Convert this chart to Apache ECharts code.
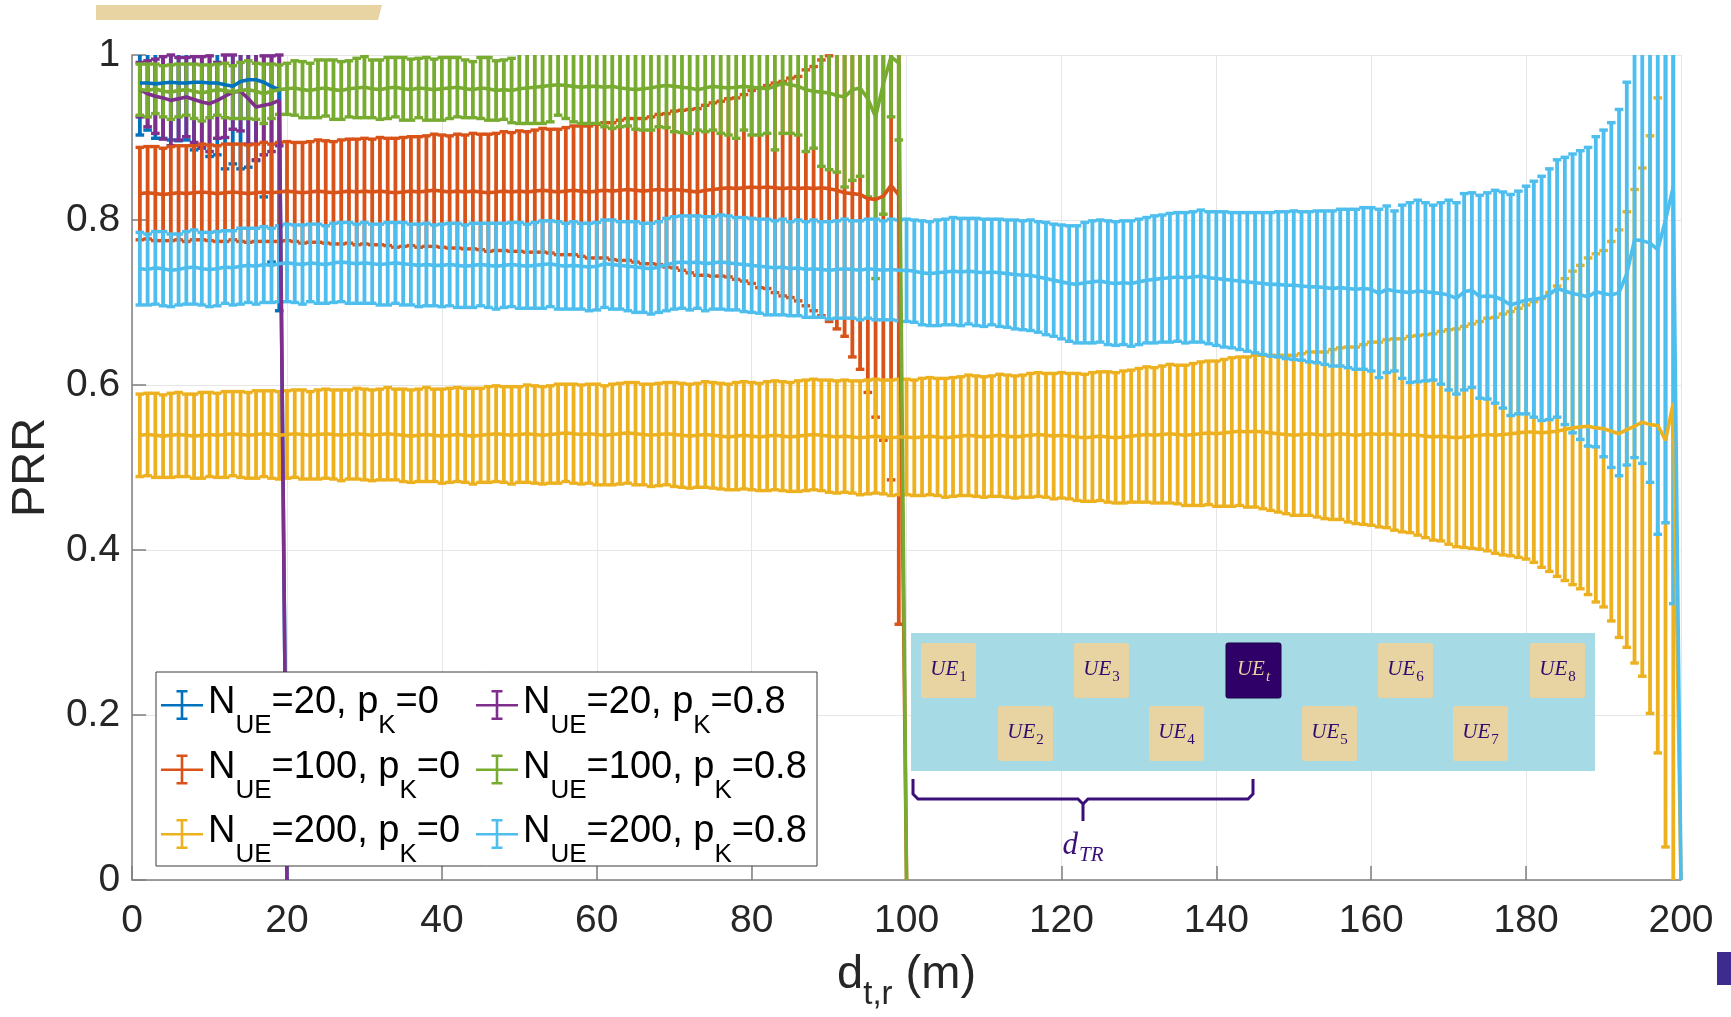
<!DOCTYPE html>
<html><head><meta charset="utf-8">
<script src="https://cdn.jsdelivr.net/npm/echarts@6/dist/echarts.min.js"></script>
<style>html,body{margin:0;padding:0;background:#fff;}#c{width:1731px;height:1017px;}</style>
</head><body><div id="c"></div>
<script>
// ---------------- data (x = 1..N metres) ----------------
const SERIES_NAMES = ['N_UE=20, p_K=0','N_UE=20, p_K=0.8','N_UE=100, p_K=0','N_UE=100, p_K=0.8','N_UE=200, p_K=0','N_UE=200, p_K=0.8'];
const COLORS = ['#0072BD','#7E2F8E','#D95319','#77AC30','#EDB120','#4DBEEE'];
const X_TICKS = [0,20,40,60,80,100,120,140,160,180,200];
const Y_TICKS = [0,0.2,0.4,0.6,0.8,1];

// N_UE=20, p_K=0
const B_MEAN = [0.966,0.966,0.965,0.966,0.967,0.966,0.966,0.967,0.967,0.966,0.966,0.964,0.962,0.968,0.970,0.970,0.967,0.962,0.958,0];
const B_STD  = [0.063,0.057,0.066,0.067,0.070,0.070,0.069,0.082,0.080,0.089,0.087,0.102,0.094,0.106,0.106,0.098,0.139,0.213,0.268,0];
// N_UE=20, p_K=0.8
const P_MEAN = [0.958,0.953,0.950,0.948,0.945,0.947,0.949,0.946,0.943,0.941,0.945,0.950,0.955,0.956,0.947,0.937,0.939,0.941,0.945,0];
const P_STD  = [0.033,0.040,0.045,0.050,0.055,0.050,0.048,0.052,0.055,0.058,0.046,0.050,0.045,0.048,0.055,0.064,0.060,0.058,0.055,0];
// N_UE=100, p_K=0
const O_MEAN = [0.832,0.833,0.832,0.831,0.832,0.833,0.832,0.833,0.834,0.833,
0.832,0.833,0.834,0.833,0.832,0.833,0.834,0.833,0.834,0.835,
0.834,0.833,0.834,0.835,0.834,0.833,0.834,0.835,0.834,0.835,
0.834,0.835,0.834,0.833,0.834,0.835,0.834,0.835,0.836,0.835,
0.834,0.835,0.834,0.835,0.834,0.833,0.834,0.835,0.834,0.835,
0.834,0.835,0.836,0.835,0.834,0.835,0.836,0.835,0.834,0.835,
0.836,0.835,0.836,0.837,0.836,0.835,0.836,0.837,0.836,0.837,
0.836,0.835,0.834,0.836,0.837,0.838,0.839,0.838,0.839,0.840,
0.839,0.840,0.839,0.838,0.839,0.838,0.839,0.838,0.839,0.838,
0.836,0.833,0.832,0.831,0.826,0.825,0.829,0.842,0.830,0];
const O_STD = [0.056,0.056,0.057,0.056,0.057,0.057,0.058,0.057,0.058,0.058,
0.058,0.059,0.058,0.059,0.059,0.059,0.060,0.059,0.060,0.060,
0.060,0.061,0.061,0.062,0.062,0.062,0.063,0.063,0.064,0.064,
0.064,0.065,0.065,0.066,0.066,0.066,0.067,0.067,0.068,0.068,
0.068,0.069,0.069,0.070,0.070,0.071,0.071,0.072,0.072,0.073,
0.073,0.074,0.075,0.075,0.076,0.077,0.078,0.079,0.080,0.081,
0.082,0.083,0.085,0.086,0.087,0.088,0.089,0.091,0.093,0.095,
0.097,0.099,0.101,0.103,0.105,0.106,0.108,0.110,0.113,0.117,
0.121,0.123,0.127,0.130,0.133,0.136,0.143,0.148,0.155,0.161,
0.168,0.174,0.198,0.212,0.235,0.264,0.296,0.357,0.520,0];
// N_UE=100, p_K=0.8
const G_MEAN = [0.958,0.957,0.959,0.956,0.955,0.957,0.958,0.956,0.954,0.956,
0.958,0.957,0.955,0.957,0.958,0.956,0.953,0.956,0.958,0.959,
0.960,0.958,0.957,0.959,0.960,0.958,0.957,0.959,0.960,0.961,
0.959,0.958,0.960,0.961,0.959,0.958,0.960,0.959,0.958,0.959,
0.960,0.961,0.959,0.958,0.960,0.959,0.957,0.958,0.957,0.959,
0.960,0.961,0.962,0.963,0.964,0.963,0.962,0.961,0.962,0.962,
0.961,0.962,0.960,0.959,0.958,0.959,0.960,0.962,0.963,0.962,
0.961,0.960,0.958,0.960,0.962,0.961,0.960,0.961,0.962,0.961,
0.960,0.959,0.962,0.966,0.964,0.962,0.958,0.956,0.955,0.954,
0.951,0.949,0.958,0.960,0.947,0.925,0.965,0.998,0.990,0];
const G_STD = [0.031,0.032,0.030,0.031,0.033,0.032,0.031,0.033,0.034,0.032,
0.031,0.033,0.032,0.034,0.035,0.034,0.036,0.033,0.030,0.031,
0.033,0.034,0.033,0.035,0.034,0.036,0.035,0.034,0.036,0.037,
0.035,0.036,0.037,0.036,0.038,0.037,0.036,0.038,0.037,0.038,
0.037,0.036,0.035,0.034,0.037,0.038,0.036,0.036,0.039,0.042,
0.043,0.044,0.045,0.044,0.037,0.040,0.043,0.044,0.045,0.045,
0.048,0.051,0.047,0.045,0.048,0.050,0.051,0.049,0.051,0.055,
0.055,0.055,0.049,0.053,0.053,0.056,0.057,0.062,0.053,0.058,
0.057,0.054,0.077,0.061,0.059,0.059,0.075,0.069,0.090,0.093,
0.093,0.109,0.110,0.107,0.119,0.196,0.158,0.073,0.093,0];
// N_UE=200, p_K=0
const Y_MEAN = [0.539,0.540,0.539,0.538,0.539,0.540,0.539,0.538,0.539,0.540,
0.539,0.540,0.541,0.540,0.539,0.540,0.541,0.540,0.539,0.540,
0.541,0.540,0.539,0.540,0.541,0.540,0.539,0.540,0.541,0.540,
0.539,0.540,0.541,0.540,0.539,0.538,0.539,0.540,0.539,0.538,
0.539,0.540,0.539,0.538,0.539,0.540,0.541,0.540,0.539,0.540,
0.541,0.540,0.539,0.540,0.541,0.542,0.541,0.540,0.541,0.540,
0.539,0.540,0.541,0.542,0.541,0.540,0.539,0.540,0.541,0.540,
0.539,0.538,0.539,0.540,0.539,0.538,0.537,0.538,0.539,0.538,
0.537,0.538,0.539,0.538,0.537,0.538,0.539,0.540,0.539,0.538,
0.537,0.538,0.537,0.536,0.537,0.538,0.537,0.536,0.537,0.537,
0.536,0.537,0.538,0.537,0.536,0.537,0.538,0.539,0.538,0.537,
0.538,0.539,0.538,0.537,0.538,0.539,0.540,0.539,0.538,0.539,
0.538,0.537,0.536,0.537,0.538,0.537,0.536,0.537,0.538,0.539,
0.540,0.539,0.540,0.541,0.540,0.539,0.540,0.541,0.542,0.541,
0.542,0.543,0.544,0.543,0.544,0.543,0.542,0.541,0.540,0.539,
0.540,0.541,0.540,0.539,0.540,0.541,0.540,0.539,0.540,0.541,
0.540,0.541,0.540,0.539,0.540,0.539,0.538,0.537,0.538,0.537,
0.536,0.537,0.538,0.539,0.540,0.539,0.540,0.541,0.542,0.543,
0.543,0.542,0.543,0.544,0.546,0.548,0.549,0.550,0.548,0.547,
0.544,0.541,0.546,0.550,0.555,0.552,0.551,0.533,0.578,0];
const Y_STD = [0.050,0.050,0.051,0.050,0.051,0.051,0.050,0.051,0.052,0.051,
0.051,0.052,0.051,0.052,0.052,0.053,0.052,0.053,0.053,0.053,
0.053,0.054,0.053,0.054,0.054,0.054,0.055,0.054,0.055,0.055,
0.055,0.055,0.056,0.055,0.056,0.056,0.056,0.057,0.056,0.057,
0.057,0.057,0.057,0.058,0.057,0.058,0.058,0.058,0.059,0.058,
0.059,0.059,0.059,0.059,0.060,0.059,0.060,0.060,0.060,0.061,
0.060,0.061,0.061,0.061,0.062,0.061,0.062,0.062,0.062,0.063,
0.063,0.063,0.063,0.064,0.064,0.064,0.064,0.065,0.065,0.065,
0.065,0.066,0.066,0.066,0.066,0.067,0.067,0.067,0.067,0.068,
0.068,0.068,0.068,0.069,0.069,0.069,0.069,0.070,0.070,0.070,
0.070,0.071,0.071,0.071,0.072,0.072,0.072,0.073,0.073,0.073,
0.073,0.074,0.074,0.074,0.074,0.075,0.075,0.075,0.076,0.076,
0.076,0.077,0.077,0.078,0.078,0.079,0.079,0.080,0.080,0.081,
0.082,0.082,0.083,0.084,0.084,0.085,0.086,0.087,0.087,0.088,
0.089,0.090,0.090,0.091,0.092,0.093,0.094,0.095,0.096,0.097,
0.098,0.099,0.100,0.101,0.103,0.104,0.106,0.107,0.109,0.111,
0.112,0.114,0.116,0.117,0.119,0.121,0.123,0.125,0.127,0.130,
0.132,0.134,0.136,0.138,0.141,0.143,0.146,0.148,0.151,0.154,
0.158,0.163,0.169,0.176,0.183,0.190,0.196,0.204,0.211,0.216,
0.230,0.247,0.264,0.287,0.308,0.350,0.397,0.493,0.620,0];
// N_UE=200, p_K=0.8
const L_MEAN = [0.741,0.740,0.742,0.741,0.739,0.740,0.742,0.743,0.741,0.740,
0.741,0.743,0.742,0.744,0.745,0.744,0.746,0.745,0.747,0.748,
0.747,0.746,0.748,0.747,0.746,0.748,0.749,0.748,0.747,0.748,
0.747,0.746,0.747,0.748,0.747,0.746,0.745,0.746,0.745,0.745,
0.746,0.745,0.744,0.745,0.746,0.745,0.744,0.745,0.746,0.745,
0.744,0.745,0.746,0.747,0.745,0.744,0.745,0.744,0.743,0.744,
0.747,0.746,0.745,0.744,0.743,0.742,0.741,0.743,0.746,0.748,
0.749,0.748,0.749,0.747,0.748,0.749,0.748,0.747,0.746,0.745,
0.744,0.743,0.742,0.743,0.741,0.742,0.740,0.741,0.740,0.739,
0.740,0.741,0.740,0.739,0.741,0.740,0.739,0.740,0.739,0.739,
0.738,0.736,0.735,0.736,0.737,0.738,0.737,0.738,0.737,0.736,
0.737,0.736,0.735,0.734,0.733,0.733,0.731,0.729,0.727,0.725,
0.723,0.722,0.724,0.725,0.726,0.724,0.723,0.724,0.723,0.725,
0.727,0.728,0.729,0.730,0.731,0.730,0.731,0.732,0.730,0.729,
0.728,0.727,0.726,0.725,0.724,0.723,0.722,0.722,0.721,0.721,
0.720,0.719,0.719,0.718,0.717,0.718,0.717,0.716,0.717,0.716,
0.711,0.716,0.714,0.713,0.712,0.714,0.713,0.712,0.711,0.709,
0.705,0.713,0.715,0.707,0.708,0.707,0.703,0.697,0.700,0.703,
0.704,0.705,0.710,0.717,0.714,0.711,0.709,0.707,0.713,0.711,
0.709,0.712,0.735,0.776,0.775,0.772,0.764,0.800,0.840,0];
const L_STD = [0.044,0.043,0.044,0.045,0.044,0.043,0.044,0.045,0.044,0.045,
0.045,0.044,0.045,0.046,0.045,0.046,0.046,0.045,0.046,0.047,
0.047,0.048,0.047,0.048,0.047,0.048,0.048,0.049,0.048,0.049,
0.048,0.049,0.050,0.049,0.050,0.049,0.050,0.050,0.049,0.050,
0.050,0.051,0.050,0.051,0.050,0.051,0.052,0.051,0.051,0.052,
0.051,0.052,0.053,0.052,0.053,0.052,0.053,0.052,0.053,0.053,
0.053,0.054,0.053,0.054,0.055,0.054,0.055,0.055,0.056,0.056,
0.056,0.057,0.056,0.057,0.056,0.057,0.057,0.056,0.057,0.057,
0.057,0.058,0.057,0.058,0.057,0.058,0.058,0.059,0.058,0.059,
0.059,0.060,0.059,0.060,0.060,0.061,0.060,0.061,0.061,0.062,
0.062,0.063,0.063,0.064,0.064,0.065,0.065,0.064,0.065,0.065,
0.064,0.065,0.065,0.066,0.066,0.067,0.067,0.068,0.068,0.069,
0.070,0.071,0.073,0.074,0.074,0.075,0.075,0.075,0.076,0.076,
0.076,0.077,0.077,0.078,0.078,0.079,0.079,0.080,0.080,0.081,
0.082,0.082,0.083,0.084,0.085,0.086,0.087,0.088,0.089,0.090,
0.090,0.091,0.092,0.093,0.094,0.095,0.096,0.097,0.098,0.099,
0.102,0.101,0.097,0.105,0.109,0.110,0.108,0.106,0.110,0.115,
0.116,0.119,0.118,0.123,0.125,0.129,0.131,0.134,0.135,0.138,
0.143,0.148,0.152,0.156,0.162,0.169,0.175,0.181,0.188,0.198,
0.209,0.222,0.232,0.264,0.270,0.290,0.345,0.367,0.505,0];

// inset diagram labels (annotation)
const INSET_ROW1 = ['1','3','t','6','8'];
const INSET_ROW2 = ['2','4','5','7'];

// ---------------- chart ----------------
const GROUPS = [
  {mean:B_MEAN, std:B_STD}, {mean:P_MEAN, std:P_STD},
  {mean:O_MEAN, std:O_STD}, {mean:G_MEAN, std:G_STD},
  {mean:Y_MEAN, std:Y_STD}, {mean:L_MEAN, std:L_STD}
];
const FONT = 'Liberation Sans';
const TXT = '#262626';

function makeRender(color){
  return function(params, api){
    const x = api.value(0), m = api.value(1), s = api.value(2);
    if (!(s > 0)) return null;
    const cs = params.coordSys;
    const top = api.coord([x, m + s]);
    const bot = api.coord([x, m - s]);
    const px = top[0];
    const yMin = cs.y, yMax = cs.y + cs.height;
    const y1 = Math.max(top[1], yMin), y2 = Math.min(bot[1], yMax);
    if (y1 >= y2) return null;
    const st = {stroke: color, lineWidth: 3.8};
    const cst = {stroke: color, lineWidth: 3.4};
    const ch = [{type:'line', shape:{x1:px,y1:y1,x2:px,y2:y2}, style:st}];
    const hw = 4.3;
    if (top[1] >= yMin - 0.5) ch.push({type:'line', shape:{x1:px-hw,y1:top[1],x2:px+hw,y2:top[1]}, style:cst});
    if (bot[1] <= yMax + 0.5) ch.push({type:'line', shape:{x1:px-hw,y1:bot[1],x2:px+hw,y2:bot[1]}, style:cst});
    return {type:'group', children:ch};
  };
}

const series = [];
GROUPS.forEach((g, i) => {
  const c = COLORS[i];
  series.push({
    type:'custom', name: SERIES_NAMES[i] + ' (err)', silent:true,
    renderItem: makeRender(c),
    data: g.mean.map((m, k) => [k + 1, m, g.std[k]]),
    encode: {x:0, y:1}
  });
  series.push({
    type:'line', name: SERIES_NAMES[i], silent:true, showSymbol:false, symbol:'none',
    data: g.mean.map((m, k) => [k + 1, m]),
    lineStyle:{color:c, width:3.6}, itemStyle:{color:c}, clip:true
  });
});

const ICON = 'path://M0,14H42V16.6H0Z M19.7,0H22.3V30H19.7Z M15.5,0H26.5V2.6H15.5Z M15.5,27.4H26.5V30H15.5Z';
function legendFmt(name){
  const m = name.match(/N_UE=(\d+), p_K=(.+)/);
  return '{n|N}{s|UE}{n|=' + m[1] + ', p}{s|K}{n|=' + m[2] + '}';
}
const legendText = {
  color:'#000', fontFamily:FONT,
  rich:{
    n:{fontSize:38, lineHeight:42, verticalAlign:'top', fontFamily:FONT, color:'#000'},
    s:{fontSize:26, lineHeight:28, padding:[29,0,0,0], verticalAlign:'top', fontFamily:FONT, color:'#000'}
  }
};
function mkLegend(idx, left){
  return {
    data: idx.map(i => ({name:SERIES_NAMES[i], icon:ICON})),
    orient:'vertical', left:left, top:684, padding:0,
    itemWidth:42, itemHeight:30, itemGap:9.5,
    formatter: legendFmt, textStyle: legendText,
    itemStyle:{borderWidth:0}, selectedMode:false, z:20
  };
}

// graphic (annotations)
const SERIF = 'Liberation Serif';
const INK = '#2E0A6E';
const TAN = '#E8D3A2';
const gfx = [];
gfx.push({type:'polygon', shape:{points:[[96,5],[382,5],[378,20],[96,20]]}, style:{fill:TAN}, z:30});
gfx.push({type:'polygon', shape:{points:[[1717,952],[1731,952],[1731,985],[1717,985]]}, style:{fill:'#3D2C8D'}, z:30});
gfx.push({type:'rect', shape:{x:156, y:672, width:661, height:194}, style:{fill:'#fff', stroke:'#3a3a3a', lineWidth:1}, z:10});
gfx.push({type:'rect', shape:{x:911, y:633, width:684, height:138}, style:{fill:'#A6DAE4'}, z:10});
function ueBox(x, y, sub){
  const dark = sub === 't';
  gfx.push({type:'rect', shape:{x:x, y:y, width:55, height:55, r:2}, style:{fill: dark ? '#2F0068' : TAN, stroke: dark ? '#1d0045' : null, lineWidth: dark ? 1 : 0}, z:11});
  gfx.push({type:'text', x:x + 27.5, y:y + 27.5, z:12, style:{
    text:'{a|UE}{b|' + sub + '}', align:'center', verticalAlign:'middle',
    fill: dark ? TAN : INK,
    rich:{
      a:{fontSize:21, fontStyle:'italic', fontFamily:SERIF, lineHeight:23, verticalAlign:'top'},
      b:{fontSize:15, fontStyle: dark ? 'italic' : 'normal', fontFamily:SERIF, lineHeight:15, padding:[11,0,0,1], verticalAlign:'top'}
    }
  }});
}
const ROW1_X = [921,1074,1226,1378,1530];
const ROW2_X = [998,1149,1302,1453];
INSET_ROW1.forEach((s, i) => ueBox(ROW1_X[i], 643, s));
INSET_ROW2.forEach((s, i) => ueBox(ROW2_X[i], 706, s));
gfx.push({type:'polyline', shape:{points:[[913,779],[913,794],[918,799],[1078,799],[1083,804],[1083,821]]}, style:{stroke:'#3B0F78', lineWidth:3, fill:null}, z:12});
gfx.push({type:'polyline', shape:{points:[[1083,804],[1088,799],[1248,799],[1253,794],[1253,779]]}, style:{stroke:'#3B0F78', lineWidth:3, fill:null}, z:12});
gfx.push({type:'text', x:1083, y:846, z:12, style:{
  text:'{a|d}{b|TR}', align:'center', verticalAlign:'middle', fill:'#3B0F78',
  rich:{
    a:{fontSize:31, fontStyle:'italic', fontFamily:SERIF, lineHeight:32, verticalAlign:'top'},
    b:{fontSize:21, fontStyle:'italic', fontFamily:SERIF, lineHeight:21, padding:[15,0,0,1], verticalAlign:'top'}
  }
}});

const option = {
  animation:false,
  backgroundColor:'#fff',
  textStyle:{fontFamily:FONT},
  grid:{left:131, right:50, top:55, bottom:137, containLabel:false},
  xAxis:{
    type:'value', min:X_TICKS[0], max:X_TICKS[X_TICKS.length-1], interval:X_TICKS[1]-X_TICKS[0],
    axisLine:{show:true, onZero:false, lineStyle:{color:'#7f7f7f', width:1.5}},
    axisTick:{show:true, inside:true, length:14, lineStyle:{color:'#7f7f7f', width:1.5}},
    splitLine:{show:true, lineStyle:{color:'#e6e6e6', width:1}},
    axisLabel:{fontSize:39, color:TXT, margin:22, fontFamily:FONT},
    name:'{d|d}{s|t,r}{d| (m)}', nameLocation:'middle', nameGap:72,
    nameTextStyle:{color:TXT, fontFamily:FONT, rich:{
      d:{fontSize:47, lineHeight:50, verticalAlign:'top', fontFamily:FONT, color:TXT},
      s:{fontSize:33, lineHeight:34, padding:[26,0,0,0], verticalAlign:'top', fontFamily:FONT, color:TXT}
    }}
  },
  yAxis:{
    type:'value', min:Y_TICKS[0], max:Y_TICKS[Y_TICKS.length-1], interval:Y_TICKS[1]-Y_TICKS[0],
    axisLine:{show:true, lineStyle:{color:'#7f7f7f', width:1.5}},
    axisTick:{show:true, inside:true, length:14, lineStyle:{color:'#7f7f7f', width:1.5}},
    splitLine:{show:true, lineStyle:{color:'#e6e6e6', width:1}},
    axisLabel:{fontSize:39, color:TXT, margin:12, fontFamily:FONT},
    name:'PRR', nameLocation:'middle', nameGap:73, nameRotate:90,
    nameTextStyle:{fontSize:47, color:TXT, fontFamily:FONT}
  },
  legend:[mkLegend([0,2,4], 161), mkLegend([1,3,5], 476)],
  graphic:{elements:gfx},
  series:series
};
const chart = echarts.init(document.getElementById('c'), null, {renderer:'canvas'});
chart.setOption(option);
</script></body></html>
